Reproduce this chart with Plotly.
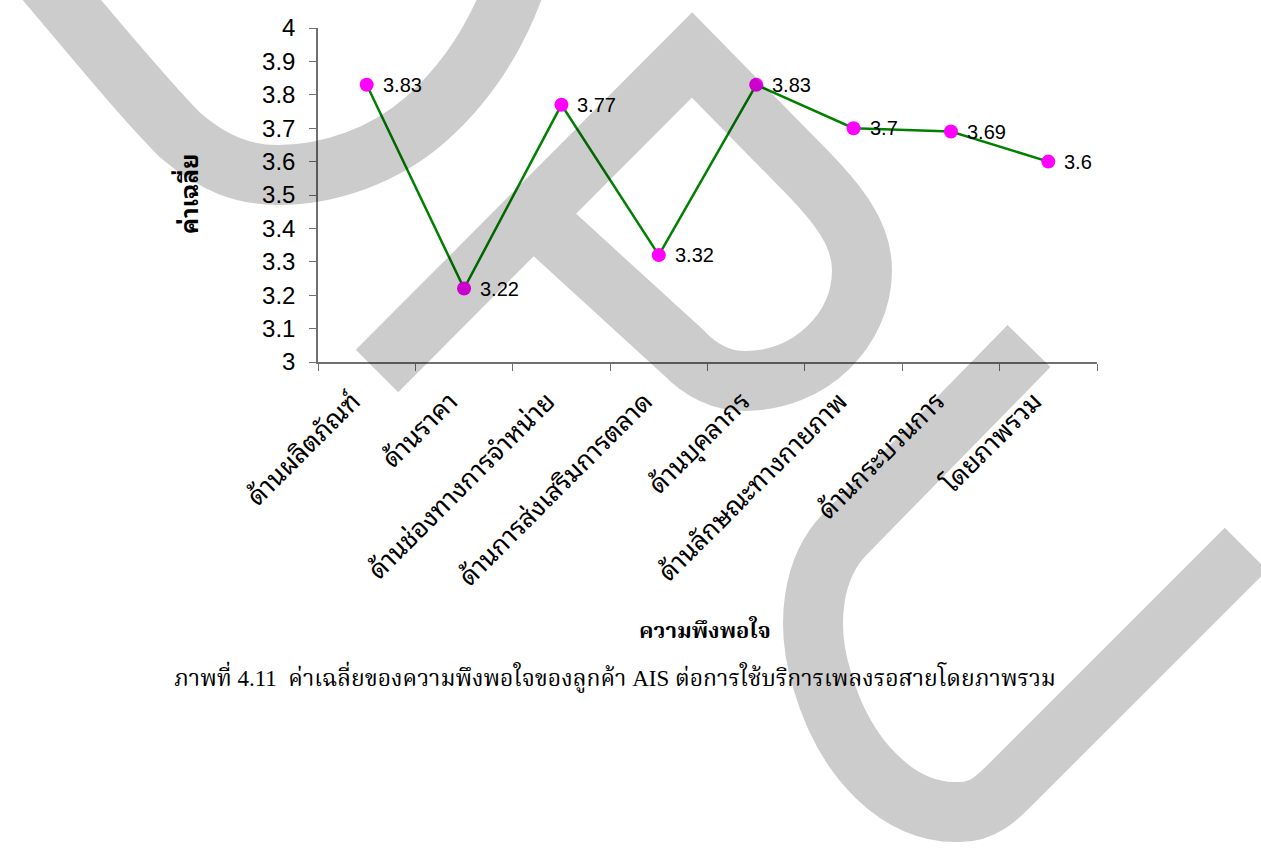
import plotly.graph_objects as go

# Satisfaction dimensions and their mean scores
categories = [
    "ด้านผลิตภัณฑ์",
    "ด้านราคา",
    "ด้านช่องทางการจำหน่าย",
    "ด้านการส่งเสริมการตลาด",
    "ด้านบุคลากร",
    "ด้านลักษณะทางกายภาพ",
    "ด้านกระบวนการ",
    "โดยภาพรวม",
]
mean_scores = [3.83, 3.22, 3.77, 3.32, 3.83, 3.70, 3.69, 3.60]
y_ticks = [3.0, 3.1, 3.2, 3.3, 3.4, 3.5, 3.6, 3.7, 3.8, 3.9, 4.0]
y_tick_text = ["3", "3.1", "3.2", "3.3", "3.4", "3.5", "3.6", "3.7", "3.8", "3.9", "4"]

W, H = 1261, 861
PL, PR, PT, PB = 318, 1097, 28, 362  # plot area in pixels


def px(x):
    return (x - PL) / (PR - PL)


def py(y):
    return (PB - y) / (PB - PT)


def path(cmds):
    """Build an SVG path in paper units from (command, [x, y, ...]) pixel pairs."""
    parts = []
    for cmd, pts in cmds:
        coords = []
        for i in range(0, len(pts), 2):
            coords.append(f"{px(pts[i]):.5f},{py(pts[i + 1]):.5f}")
        parts.append(cmd + " " + " ".join(coords))
    return " ".join(parts)


# Background emblem strokes (centre lines, drawn with a wide pen)
emblem = [
    [("M", [45, -20]),
     ("C", [100, 45, 145, 100, 180, 135]),
     ("C", [215, 165, 245, 175, 278, 175]),
     ("C", [330, 175, 385, 155, 425, 120]),
     ("C", [465, 85, 495, 40, 515, -15])],
    [("M", [377, 371]), ("L", [692, 55]), ("L", [800, 165]),
     ("C", [840, 205, 862, 235, 862, 270]),
     ("C", [862, 330, 810, 381, 745, 381]),
     ("C", [720, 381, 700, 370, 683, 352]),
     ("L", [533, 215])],
    [("M", [1029, 346]), ("L", [845, 534]),
     ("C", [812, 568, 805, 625, 822, 680]),
     ("C", [845, 760, 900, 815, 960, 812]),
     ("C", [985, 812, 1000, 795, 1013, 782]),
     ("L", [1246, 549])],
]

fig = go.Figure()
fig.add_trace(go.Scatter(
    x=categories,
    y=mean_scores,
    mode="lines+markers",
    line=dict(color="#008000", width=2.5),
    marker=dict(color="#ff00ff", size=14),
    cliponaxis=False,
    showlegend=False,
))

shapes = []
for stroke in emblem:
    shapes.append(dict(
        type="path", xref="paper", yref="paper", path=path(stroke),
        line=dict(color="rgba(0,0,0,0.2)", width=60),
        fillcolor="rgba(0,0,0,0)", layer="above",
    ))

thai = "Tahoma, 'Noto Sans Thai Looped', 'Noto Sans Thai', 'Noto Sans', sans-serif"

# Value labels beside each point
annotations = [
    dict(x=c, y=v, xref="x", yref="y", text=f"{v:g}", showarrow=False,
         xanchor="left", yanchor="middle", xshift=14,
         font=dict(family="Liberation Sans, Arial, sans-serif", size=20, color="black"))
    for c, v in zip(categories, mean_scores)
]
annotations += [
    dict(text="<b>ค่าเฉลี่ย</b>", x=px(187), y=py(194), xref="paper", yref="paper",
         textangle=-90, showarrow=False, xanchor="center", yanchor="middle",
         font=dict(family=thai, size=24, color="black")),
    dict(text="<b>ความพึงพอใจ</b>", x=px(705), y=py(632), xref="paper", yref="paper",
         showarrow=False, xanchor="center", yanchor="middle",
         font=dict(family="'Noto Serif Thai', " + thai, size=22, color="black")),
    dict(text="ภาพที่ 4.11  ค่าเฉลี่ยของความพึงพอใจของลูกค้า AIS ต่อการใช้บริการเพลงรอสายโดยภาพรวม",
         x=px(615), y=py(677), xref="paper", yref="paper",
         showarrow=False, xanchor="center", yanchor="middle",
         font=dict(family="'Liberation Serif', 'Noto Serif Thai', serif", size=23, color="black")),
]

fig.update_layout(
    width=W, height=H, autosize=False,
    margin=dict(l=PL, r=W - PR, t=PT, b=H - PB, pad=0),
    paper_bgcolor="white", plot_bgcolor="white",
    shapes=shapes, annotations=annotations,
    xaxis=dict(
        type="category", categoryorder="array", categoryarray=categories,
        range=[-0.5, len(categories) - 0.5], tickson="boundaries",
        showline=True, linecolor="#707070", linewidth=1.5,
        ticks="outside", ticklen=7, tickcolor="#707070", tickwidth=1,
        tickangle=-45, showgrid=False, zeroline=False, automargin=False,
        ticklabelshift=-14, ticklabelstandoff=12,
        tickfont=dict(family=thai, size=26, color="black"),
    ),
    yaxis=dict(
        range=[3, 4], tickvals=y_ticks, ticktext=y_tick_text,
        showline=True, linecolor="#707070", linewidth=1.5,
        ticks="outside", ticklen=7, tickcolor="#707070", tickwidth=1,
        showgrid=False, zeroline=False, automargin=False,
        ticklabelstandoff=9,
        tickfont=dict(family="Liberation Sans, Arial, sans-serif", size=24, color="black"),
    ),
)

fig.write_html("out.html")
